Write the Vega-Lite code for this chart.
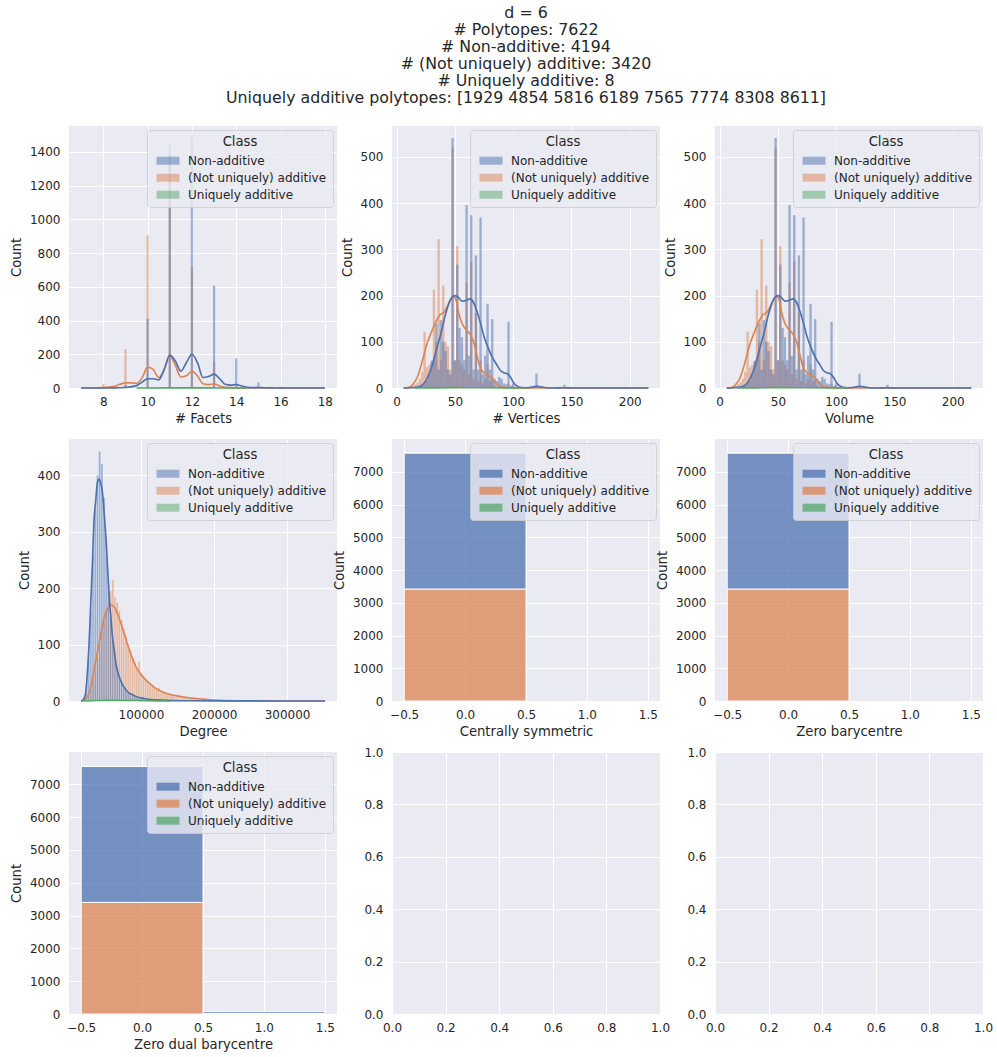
{
"$schema": "https://vega.github.io/schema/vega-lite/v6.json",
"background": "white",
"padding": {"left": 9, "right": 5, "top": 4, "bottom": 5},
"title": {"text": ["d = 6", "# Polytopes: 7622", "# Non-additive: 4194", "# (Not uniquely) additive: 3420", "# Uniquely additive: 8", "Uniquely additive polytopes: [1929 4854 5816 6189 7565 7774 8308 8611]"], "anchor": "middle", "dx": 25, "fontSize": 15.8, "lineHeight": 17.1, "font": "DejaVu Sans", "fontWeight": "normal", "color": "#262626", "offset": 19},
"datasets": {
"h": [
{"p":"F","c":"A","x0":6.95,"x1":7.05,"n":1},
{"p":"F","c":"A","x0":7.95,"x1":8.05,"n":25},
{"p":"F","c":"A","x0":8.95,"x1":9.05,"n":230},
{"p":"F","c":"A","x0":9.95,"x1":10.05,"n":905},
{"p":"F","c":"A","x0":10.95,"x1":11.05,"n":1380},
{"p":"F","c":"A","x0":11.95,"x1":12.05,"n":718},
{"p":"F","c":"A","x0":12.95,"x1":13.05,"n":155},
{"p":"F","c":"A","x0":13.95,"x1":14.05,"n":6},
{"p":"F","c":"N","x0":8.95,"x1":9.05,"n":18},
{"p":"F","c":"N","x0":9.95,"x1":10.05,"n":410},
{"p":"F","c":"N","x0":10.95,"x1":11.05,"n":1440},
{"p":"F","c":"N","x0":11.95,"x1":12.05,"n":1488},
{"p":"F","c":"N","x0":12.95,"x1":13.05,"n":607},
{"p":"F","c":"N","x0":13.95,"x1":14.05,"n":175},
{"p":"F","c":"N","x0":14.95,"x1":15.05,"n":33},
{"p":"F","c":"N","x0":15.95,"x1":16.05,"n":8},
{"p":"F","c":"N","x0":16.95,"x1":17.05,"n":2},
{"p":"F","c":"N","x0":17.95,"x1":18.05,"n":1},
{"p":"F","c":"U","x0":9.95,"x1":10.05,"n":1},
{"p":"F","c":"U","x0":10.95,"x1":11.05,"n":2},
{"p":"F","c":"U","x0":11.95,"x1":12.05,"n":3},
{"p":"F","c":"U","x0":12.95,"x1":13.05,"n":1},
{"p":"F","c":"U","x0":13.95,"x1":14.05,"n":1},
{"p":"V","c":"A","x0":11,"x1":13,"n":3},
{"p":"V","c":"A","x0":13,"x1":15,"n":5},
{"p":"V","c":"A","x0":15,"x1":17,"n":8},
{"p":"V","c":"A","x0":17,"x1":19,"n":12},
{"p":"V","c":"A","x0":19,"x1":21,"n":20},
{"p":"V","c":"A","x0":21,"x1":23,"n":35},
{"p":"V","c":"A","x0":23,"x1":25,"n":122},
{"p":"V","c":"A","x0":25,"x1":27,"n":45},
{"p":"V","c":"A","x0":27,"x1":29,"n":50},
{"p":"V","c":"A","x0":29,"x1":31,"n":60},
{"p":"V","c":"A","x0":31,"x1":33,"n":213},
{"p":"V","c":"A","x0":33,"x1":35,"n":100},
{"p":"V","c":"A","x0":35,"x1":37,"n":322},
{"p":"V","c":"A","x0":37,"x1":39,"n":60},
{"p":"V","c":"A","x0":39,"x1":41,"n":222},
{"p":"V","c":"A","x0":41,"x1":43,"n":100},
{"p":"V","c":"A","x0":43,"x1":45,"n":90},
{"p":"V","c":"A","x0":45,"x1":47,"n":40},
{"p":"V","c":"A","x0":47,"x1":49,"n":520},
{"p":"V","c":"A","x0":49,"x1":51,"n":60},
{"p":"V","c":"A","x0":51,"x1":53,"n":307},
{"p":"V","c":"A","x0":53,"x1":55,"n":60},
{"p":"V","c":"A","x0":55,"x1":57,"n":50},
{"p":"V","c":"A","x0":57,"x1":59,"n":40},
{"p":"V","c":"A","x0":59,"x1":61,"n":229},
{"p":"V","c":"A","x0":61,"x1":63,"n":30},
{"p":"V","c":"A","x0":63,"x1":65,"n":273},
{"p":"V","c":"A","x0":65,"x1":67,"n":20},
{"p":"V","c":"A","x0":67,"x1":69,"n":162},
{"p":"V","c":"A","x0":69,"x1":71,"n":15},
{"p":"V","c":"A","x0":71,"x1":73,"n":60},
{"p":"V","c":"A","x0":73,"x1":75,"n":10},
{"p":"V","c":"A","x0":75,"x1":77,"n":20},
{"p":"V","c":"A","x0":77,"x1":79,"n":51},
{"p":"V","c":"A","x0":79,"x1":81,"n":15},
{"p":"V","c":"A","x0":81,"x1":83,"n":20},
{"p":"V","c":"A","x0":83,"x1":85,"n":5},
{"p":"V","c":"A","x0":87,"x1":89,"n":5},
{"p":"V","c":"A","x0":95,"x1":97,"n":10},
{"p":"V","c":"A","x0":99,"x1":101,"n":5},
{"p":"V","c":"N","x0":19,"x1":21,"n":3},
{"p":"V","c":"N","x0":21,"x1":23,"n":5},
{"p":"V","c":"N","x0":23,"x1":25,"n":10},
{"p":"V","c":"N","x0":25,"x1":27,"n":15},
{"p":"V","c":"N","x0":27,"x1":29,"n":30},
{"p":"V","c":"N","x0":29,"x1":31,"n":57},
{"p":"V","c":"N","x0":31,"x1":33,"n":64},
{"p":"V","c":"N","x0":33,"x1":35,"n":140},
{"p":"V","c":"N","x0":35,"x1":37,"n":40},
{"p":"V","c":"N","x0":37,"x1":39,"n":147},
{"p":"V","c":"N","x0":39,"x1":41,"n":100},
{"p":"V","c":"N","x0":41,"x1":43,"n":80},
{"p":"V","c":"N","x0":43,"x1":45,"n":40},
{"p":"V","c":"N","x0":45,"x1":47,"n":30},
{"p":"V","c":"N","x0":47,"x1":49,"n":541},
{"p":"V","c":"N","x0":49,"x1":51,"n":60},
{"p":"V","c":"N","x0":51,"x1":53,"n":267},
{"p":"V","c":"N","x0":53,"x1":55,"n":130},
{"p":"V","c":"N","x0":55,"x1":57,"n":110},
{"p":"V","c":"N","x0":57,"x1":59,"n":60},
{"p":"V","c":"N","x0":59,"x1":61,"n":396},
{"p":"V","c":"N","x0":61,"x1":63,"n":70},
{"p":"V","c":"N","x0":63,"x1":65,"n":374},
{"p":"V","c":"N","x0":65,"x1":67,"n":40},
{"p":"V","c":"N","x0":67,"x1":69,"n":287},
{"p":"V","c":"N","x0":69,"x1":71,"n":40},
{"p":"V","c":"N","x0":71,"x1":73,"n":369},
{"p":"V","c":"N","x0":73,"x1":75,"n":30},
{"p":"V","c":"N","x0":75,"x1":77,"n":70},
{"p":"V","c":"N","x0":77,"x1":79,"n":182},
{"p":"V","c":"N","x0":79,"x1":81,"n":40},
{"p":"V","c":"N","x0":81,"x1":83,"n":149},
{"p":"V","c":"N","x0":83,"x1":85,"n":20},
{"p":"V","c":"N","x0":85,"x1":87,"n":15},
{"p":"V","c":"N","x0":87,"x1":89,"n":24},
{"p":"V","c":"N","x0":89,"x1":91,"n":20},
{"p":"V","c":"N","x0":91,"x1":93,"n":10},
{"p":"V","c":"N","x0":93,"x1":95,"n":8},
{"p":"V","c":"N","x0":95,"x1":97,"n":143},
{"p":"V","c":"N","x0":97,"x1":99,"n":5},
{"p":"V","c":"N","x0":99,"x1":101,"n":10},
{"p":"V","c":"N","x0":103,"x1":105,"n":4},
{"p":"V","c":"N","x0":107,"x1":109,"n":3},
{"p":"V","c":"N","x0":111,"x1":113,"n":2},
{"p":"V","c":"N","x0":119,"x1":121,"n":31},
{"p":"V","c":"N","x0":131,"x1":133,"n":2},
{"p":"V","c":"N","x0":143,"x1":145,"n":7},
{"p":"V","c":"N","x0":214,"x1":216,"n":1},
{"p":"V","c":"U","x0":29,"x1":31,"n":1},
{"p":"V","c":"U","x0":39,"x1":41,"n":1},
{"p":"V","c":"U","x0":47,"x1":49,"n":2},
{"p":"V","c":"U","x0":59,"x1":61,"n":1},
{"p":"V","c":"U","x0":63,"x1":65,"n":1},
{"p":"V","c":"U","x0":71,"x1":73,"n":1},
{"p":"V","c":"U","x0":95,"x1":97,"n":1},
{"p":"D","c":"A","x0":21000,"x1":24000,"n":1},
{"p":"D","c":"A","x0":24000,"x1":27000,"n":4},
{"p":"D","c":"A","x0":27000,"x1":30000,"n":10},
{"p":"D","c":"A","x0":30000,"x1":33000,"n":20},
{"p":"D","c":"A","x0":33000,"x1":36000,"n":35},
{"p":"D","c":"A","x0":36000,"x1":39000,"n":55},
{"p":"D","c":"A","x0":39000,"x1":42000,"n":75},
{"p":"D","c":"A","x0":42000,"x1":45000,"n":100},
{"p":"D","c":"A","x0":45000,"x1":48000,"n":125},
{"p":"D","c":"A","x0":48000,"x1":51000,"n":140},
{"p":"D","c":"A","x0":51000,"x1":54000,"n":160},
{"p":"D","c":"A","x0":54000,"x1":57000,"n":175},
{"p":"D","c":"A","x0":57000,"x1":60000,"n":195},
{"p":"D","c":"A","x0":60000,"x1":63000,"n":215},
{"p":"D","c":"A","x0":63000,"x1":66000,"n":185},
{"p":"D","c":"A","x0":66000,"x1":69000,"n":175},
{"p":"D","c":"A","x0":69000,"x1":72000,"n":160},
{"p":"D","c":"A","x0":72000,"x1":75000,"n":145},
{"p":"D","c":"A","x0":75000,"x1":78000,"n":128},
{"p":"D","c":"A","x0":78000,"x1":81000,"n":115},
{"p":"D","c":"A","x0":81000,"x1":84000,"n":100},
{"p":"D","c":"A","x0":84000,"x1":87000,"n":90},
{"p":"D","c":"A","x0":87000,"x1":90000,"n":78},
{"p":"D","c":"A","x0":90000,"x1":93000,"n":68},
{"p":"D","c":"A","x0":93000,"x1":96000,"n":60},
{"p":"D","c":"A","x0":96000,"x1":99000,"n":70},
{"p":"D","c":"A","x0":99000,"x1":102000,"n":50},
{"p":"D","c":"A","x0":102000,"x1":105000,"n":45},
{"p":"D","c":"A","x0":105000,"x1":108000,"n":40},
{"p":"D","c":"A","x0":108000,"x1":111000,"n":35},
{"p":"D","c":"A","x0":111000,"x1":114000,"n":32},
{"p":"D","c":"A","x0":114000,"x1":117000,"n":28},
{"p":"D","c":"A","x0":117000,"x1":120000,"n":25},
{"p":"D","c":"A","x0":120000,"x1":123000,"n":22},
{"p":"D","c":"A","x0":123000,"x1":126000,"n":24},
{"p":"D","c":"A","x0":126000,"x1":129000,"n":18},
{"p":"D","c":"A","x0":129000,"x1":132000,"n":16},
{"p":"D","c":"A","x0":132000,"x1":135000,"n":14},
{"p":"D","c":"A","x0":135000,"x1":138000,"n":12},
{"p":"D","c":"A","x0":138000,"x1":141000,"n":11},
{"p":"D","c":"A","x0":141000,"x1":144000,"n":10},
{"p":"D","c":"A","x0":144000,"x1":147000,"n":9},
{"p":"D","c":"A","x0":147000,"x1":150000,"n":8},
{"p":"D","c":"A","x0":150000,"x1":153000,"n":7},
{"p":"D","c":"A","x0":153000,"x1":156000,"n":7},
{"p":"D","c":"A","x0":156000,"x1":159000,"n":6},
{"p":"D","c":"A","x0":159000,"x1":162000,"n":6},
{"p":"D","c":"A","x0":162000,"x1":165000,"n":5},
{"p":"D","c":"A","x0":165000,"x1":168000,"n":5},
{"p":"D","c":"A","x0":168000,"x1":171000,"n":4},
{"p":"D","c":"A","x0":171000,"x1":174000,"n":4},
{"p":"D","c":"A","x0":174000,"x1":177000,"n":5},
{"p":"D","c":"A","x0":177000,"x1":180000,"n":4},
{"p":"D","c":"A","x0":180000,"x1":183000,"n":3},
{"p":"D","c":"A","x0":183000,"x1":186000,"n":3},
{"p":"D","c":"A","x0":186000,"x1":189000,"n":2},
{"p":"D","c":"A","x0":189000,"x1":192000,"n":2},
{"p":"D","c":"A","x0":192000,"x1":195000,"n":2},
{"p":"D","c":"A","x0":195000,"x1":198000,"n":1},
{"p":"D","c":"A","x0":198000,"x1":201000,"n":1},
{"p":"D","c":"N","x0":18000,"x1":21000,"n":2},
{"p":"D","c":"N","x0":21000,"x1":24000,"n":8},
{"p":"D","c":"N","x0":24000,"x1":27000,"n":30},
{"p":"D","c":"N","x0":27000,"x1":30000,"n":75},
{"p":"D","c":"N","x0":30000,"x1":33000,"n":160},
{"p":"D","c":"N","x0":33000,"x1":36000,"n":260},
{"p":"D","c":"N","x0":36000,"x1":39000,"n":340},
{"p":"D","c":"N","x0":39000,"x1":42000,"n":400},
{"p":"D","c":"N","x0":42000,"x1":45000,"n":442},
{"p":"D","c":"N","x0":45000,"x1":48000,"n":420},
{"p":"D","c":"N","x0":48000,"x1":51000,"n":360},
{"p":"D","c":"N","x0":51000,"x1":54000,"n":290},
{"p":"D","c":"N","x0":54000,"x1":57000,"n":210},
{"p":"D","c":"N","x0":57000,"x1":60000,"n":150},
{"p":"D","c":"N","x0":60000,"x1":63000,"n":110},
{"p":"D","c":"N","x0":63000,"x1":66000,"n":80},
{"p":"D","c":"N","x0":66000,"x1":69000,"n":60},
{"p":"D","c":"N","x0":69000,"x1":72000,"n":45},
{"p":"D","c":"N","x0":72000,"x1":75000,"n":35},
{"p":"D","c":"N","x0":75000,"x1":78000,"n":25},
{"p":"D","c":"N","x0":78000,"x1":81000,"n":20},
{"p":"D","c":"N","x0":81000,"x1":84000,"n":15},
{"p":"D","c":"N","x0":84000,"x1":87000,"n":12},
{"p":"D","c":"N","x0":87000,"x1":90000,"n":10},
{"p":"D","c":"N","x0":90000,"x1":93000,"n":8},
{"p":"D","c":"N","x0":93000,"x1":96000,"n":6},
{"p":"D","c":"N","x0":96000,"x1":99000,"n":5},
{"p":"D","c":"N","x0":99000,"x1":102000,"n":4},
{"p":"D","c":"N","x0":102000,"x1":105000,"n":3},
{"p":"D","c":"N","x0":105000,"x1":108000,"n":3},
{"p":"D","c":"N","x0":108000,"x1":111000,"n":2},
{"p":"D","c":"N","x0":111000,"x1":114000,"n":2},
{"p":"D","c":"N","x0":114000,"x1":117000,"n":1},
{"p":"D","c":"N","x0":120000,"x1":123000,"n":1},
{"p":"D","c":"N","x0":350000,"x1":353000,"n":1},
{"p":"D","c":"U","x0":33000,"x1":36000,"n":1},
{"p":"D","c":"U","x0":45000,"x1":48000,"n":2},
{"p":"D","c":"U","x0":57000,"x1":60000,"n":2},
{"p":"D","c":"U","x0":72000,"x1":75000,"n":2},
{"p":"D","c":"U","x0":99000,"x1":102000,"n":1},
{"p":"CS","c":"A","x0":-0.5,"x1":0.5,"n":3420},
{"p":"CS","c":"N","x0":-0.5,"x1":0.5,"n":4155},
{"p":"CS","c":"U","x0":-0.5,"x1":0.5,"n":8},
{"p":"ZB","c":"A","x0":-0.5,"x1":0.5,"n":3420},
{"p":"ZB","c":"N","x0":-0.5,"x1":0.5,"n":4155},
{"p":"ZB","c":"U","x0":-0.5,"x1":0.5,"n":8},
{"p":"ZDB","c":"A","x0":-0.5,"x1":0.5,"n":3400},
{"p":"ZDB","c":"N","x0":-0.5,"x1":0.5,"n":4139},
{"p":"ZDB","c":"U","x0":-0.5,"x1":0.5,"n":8},
{"p":"ZDB","c":"A","x0":0.5,"x1":1.5,"n":20},
{"p":"ZDB","c":"N","x0":0.5,"x1":1.5,"n":55}
],
"k": [
{"p":"F","c":"A","x":7,"y":0},{"p":"F","c":"A","x":7.5,"y":0.2},{"p":"F","c":"A","x":8,"y":2},{"p":"F","c":"A","x":8.5,"y":10},{"p":"F","c":"A","x":8.75,"y":22},{"p":"F","c":"A","x":9,"y":30},{"p":"F","c":"A","x":9.25,"y":30},{"p":"F","c":"A","x":9.5,"y":28},{"p":"F","c":"A","x":9.75,"y":60},{"p":"F","c":"A","x":10,"y":124},{"p":"F","c":"A","x":10.25,"y":110},{"p":"F","c":"A","x":10.5,"y":62},{"p":"F","c":"A","x":10.75,"y":110},{"p":"F","c":"A","x":11,"y":190},{"p":"F","c":"A","x":11.25,"y":135},{"p":"F","c":"A","x":11.5,"y":65},{"p":"F","c":"A","x":11.75,"y":72},{"p":"F","c":"A","x":12,"y":100},{"p":"F","c":"A","x":12.25,"y":72},{"p":"F","c":"A","x":12.5,"y":25},{"p":"F","c":"A","x":12.75,"y":20},{"p":"F","c":"A","x":13,"y":24},{"p":"F","c":"A","x":13.25,"y":12},{"p":"F","c":"A","x":13.5,"y":4},{"p":"F","c":"A","x":14,"y":1},{"p":"F","c":"A","x":14.5,"y":0.2},{"p":"F","c":"A","x":15,"y":0},{"p":"F","c":"A","x":18,"y":0},
{"p":"F","c":"N","x":7,"y":0},{"p":"F","c":"N","x":8,"y":0},{"p":"F","c":"N","x":8.5,"y":0.5},{"p":"F","c":"N","x":9,"y":3},{"p":"F","c":"N","x":9.5,"y":14},{"p":"F","c":"N","x":9.75,"y":35},{"p":"F","c":"N","x":10,"y":55},{"p":"F","c":"N","x":10.25,"y":55},{"p":"F","c":"N","x":10.5,"y":48},{"p":"F","c":"N","x":10.75,"y":110},{"p":"F","c":"N","x":11,"y":195},{"p":"F","c":"N","x":11.25,"y":160},{"p":"F","c":"N","x":11.5,"y":100},{"p":"F","c":"N","x":11.75,"y":150},{"p":"F","c":"N","x":12,"y":200},{"p":"F","c":"N","x":12.25,"y":150},{"p":"F","c":"N","x":12.5,"y":62},{"p":"F","c":"N","x":12.75,"y":68},{"p":"F","c":"N","x":13,"y":82},{"p":"F","c":"N","x":13.25,"y":55},{"p":"F","c":"N","x":13.5,"y":22},{"p":"F","c":"N","x":13.75,"y":17},{"p":"F","c":"N","x":14,"y":20},{"p":"F","c":"N","x":14.25,"y":12},{"p":"F","c":"N","x":14.5,"y":4},{"p":"F","c":"N","x":14.75,"y":2},{"p":"F","c":"N","x":15,"y":3},{"p":"F","c":"N","x":15.25,"y":1.5},{"p":"F","c":"N","x":15.5,"y":0.5},{"p":"F","c":"N","x":16,"y":0.2},{"p":"F","c":"N","x":17,"y":0},{"p":"F","c":"N","x":18,"y":0},
{"p":"F","c":"U","x":9.5,"y":0},{"p":"F","c":"U","x":10,"y":0.2},{"p":"F","c":"U","x":11,"y":0.4},{"p":"F","c":"U","x":12,"y":0.5},{"p":"F","c":"U","x":13,"y":0.3},{"p":"F","c":"U","x":14,"y":0.1},{"p":"F","c":"U","x":14.5,"y":0},
{"p":"V","c":"A","x":6,"y":0},{"p":"V","c":"A","x":10,"y":1},{"p":"V","c":"A","x":14,"y":8},{"p":"V","c":"A","x":18,"y":25},{"p":"V","c":"A","x":22,"y":58},{"p":"V","c":"A","x":26,"y":95},{"p":"V","c":"A","x":30,"y":122},{"p":"V","c":"A","x":34,"y":145},{"p":"V","c":"A","x":37,"y":158},{"p":"V","c":"A","x":41,"y":165},{"p":"V","c":"A","x":44,"y":180},{"p":"V","c":"A","x":47,"y":195},{"p":"V","c":"A","x":49,"y":198},{"p":"V","c":"A","x":51,"y":190},{"p":"V","c":"A","x":53,"y":165},{"p":"V","c":"A","x":56,"y":140},{"p":"V","c":"A","x":59,"y":128},{"p":"V","c":"A","x":61,"y":123},{"p":"V","c":"A","x":64,"y":112},{"p":"V","c":"A","x":66,"y":100},{"p":"V","c":"A","x":69,"y":70},{"p":"V","c":"A","x":71,"y":49},{"p":"V","c":"A","x":74,"y":35},{"p":"V","c":"A","x":76,"y":31},{"p":"V","c":"A","x":79,"y":27},{"p":"V","c":"A","x":81,"y":24},{"p":"V","c":"A","x":84,"y":14},{"p":"V","c":"A","x":87,"y":6},{"p":"V","c":"A","x":90,"y":2},{"p":"V","c":"A","x":95,"y":0.5},{"p":"V","c":"A","x":100,"y":0},{"p":"V","c":"A","x":216,"y":0},
{"p":"V","c":"N","x":6,"y":0},{"p":"V","c":"N","x":12,"y":0.5},{"p":"V","c":"N","x":18,"y":2},{"p":"V","c":"N","x":22,"y":6},{"p":"V","c":"N","x":26,"y":20},{"p":"V","c":"N","x":30,"y":45},{"p":"V","c":"N","x":34,"y":82},{"p":"V","c":"N","x":38,"y":118},{"p":"V","c":"N","x":42,"y":160},{"p":"V","c":"N","x":46,"y":190},{"p":"V","c":"N","x":50,"y":200},{"p":"V","c":"N","x":53,"y":196},{"p":"V","c":"N","x":56,"y":188},{"p":"V","c":"N","x":60,"y":190},{"p":"V","c":"N","x":63,"y":193},{"p":"V","c":"N","x":66,"y":185},{"p":"V","c":"N","x":69,"y":165},{"p":"V","c":"N","x":72,"y":140},{"p":"V","c":"N","x":75,"y":111},{"p":"V","c":"N","x":78,"y":90},{"p":"V","c":"N","x":82,"y":67},{"p":"V","c":"N","x":86,"y":50},{"p":"V","c":"N","x":89,"y":38},{"p":"V","c":"N","x":92,"y":33},{"p":"V","c":"N","x":95,"y":31},{"p":"V","c":"N","x":98,"y":22},{"p":"V","c":"N","x":101,"y":9},{"p":"V","c":"N","x":105,"y":2},{"p":"V","c":"N","x":109,"y":0.5},{"p":"V","c":"N","x":114,"y":1},{"p":"V","c":"N","x":118,"y":3},{"p":"V","c":"N","x":120,"y":3.5},{"p":"V","c":"N","x":124,"y":2.5},{"p":"V","c":"N","x":128,"y":0.5},{"p":"V","c":"N","x":135,"y":0.1},{"p":"V","c":"N","x":144,"y":0.5},{"p":"V","c":"N","x":150,"y":0.1},{"p":"V","c":"N","x":160,"y":0},{"p":"V","c":"N","x":216,"y":0},
{"p":"V","c":"U","x":15,"y":0},{"p":"V","c":"U","x":30,"y":0.4},{"p":"V","c":"U","x":50,"y":0.7},{"p":"V","c":"U","x":70,"y":0.5},{"p":"V","c":"U","x":100,"y":0.2},{"p":"V","c":"U","x":110,"y":0},
{"p":"D","c":"A","x":18000,"y":0},{"p":"D","c":"A","x":22100,"y":1},{"p":"D","c":"A","x":25000,"y":4},{"p":"D","c":"A","x":29000,"y":14},{"p":"D","c":"A","x":32500,"y":32},{"p":"D","c":"A","x":35800,"y":55},{"p":"D","c":"A","x":39200,"y":78},{"p":"D","c":"A","x":42700,"y":102},{"p":"D","c":"A","x":46000,"y":125},{"p":"D","c":"A","x":49600,"y":147},{"p":"D","c":"A","x":53000,"y":160},{"p":"D","c":"A","x":56500,"y":168},{"p":"D","c":"A","x":60100,"y":170},{"p":"D","c":"A","x":63000,"y":167},{"p":"D","c":"A","x":65600,"y":162},{"p":"D","c":"A","x":70000,"y":147},{"p":"D","c":"A","x":74800,"y":129},{"p":"D","c":"A","x":79400,"y":110},{"p":"D","c":"A","x":83900,"y":91},{"p":"D","c":"A","x":88500,"y":75},{"p":"D","c":"A","x":93100,"y":61},{"p":"D","c":"A","x":100000,"y":47},{"p":"D","c":"A","x":106800,"y":37},{"p":"D","c":"A","x":113700,"y":29},{"p":"D","c":"A","x":120600,"y":22},{"p":"D","c":"A","x":130000,"y":16},{"p":"D","c":"A","x":138900,"y":12},{"p":"D","c":"A","x":150000,"y":9},{"p":"D","c":"A","x":161800,"y":6.5},{"p":"D","c":"A","x":170000,"y":5},{"p":"D","c":"A","x":180100,"y":4},{"p":"D","c":"A","x":190000,"y":2.5},{"p":"D","c":"A","x":200000,"y":1.5},{"p":"D","c":"A","x":215000,"y":0.6},{"p":"D","c":"A","x":240000,"y":0.2},{"p":"D","c":"A","x":270000,"y":0.05},{"p":"D","c":"A","x":352000,"y":0},
{"p":"D","c":"N","x":18000,"y":0},{"p":"D","c":"N","x":21000,"y":2},{"p":"D","c":"N","x":24000,"y":12},{"p":"D","c":"N","x":26700,"y":50},{"p":"D","c":"N","x":29000,"y":102},{"p":"D","c":"N","x":31300,"y":173},{"p":"D","c":"N","x":33600,"y":245},{"p":"D","c":"N","x":35800,"y":321},{"p":"D","c":"N","x":38100,"y":355},{"p":"D","c":"N","x":40400,"y":387},{"p":"D","c":"N","x":42700,"y":393},{"p":"D","c":"N","x":45000,"y":385},{"p":"D","c":"N","x":47300,"y":369},{"p":"D","c":"N","x":49600,"y":333},{"p":"D","c":"N","x":51900,"y":292},{"p":"D","c":"N","x":54200,"y":239},{"p":"D","c":"N","x":56500,"y":185},{"p":"D","c":"N","x":58700,"y":150},{"p":"D","c":"N","x":61000,"y":114},{"p":"D","c":"N","x":63300,"y":91},{"p":"D","c":"N","x":65600,"y":67},{"p":"D","c":"N","x":70200,"y":43},{"p":"D","c":"N","x":75000,"y":28},{"p":"D","c":"N","x":79400,"y":20},{"p":"D","c":"N","x":84000,"y":14},{"p":"D","c":"N","x":88500,"y":11},{"p":"D","c":"N","x":95000,"y":7},{"p":"D","c":"N","x":102300,"y":5},{"p":"D","c":"N","x":110000,"y":3},{"p":"D","c":"N","x":120600,"y":2},{"p":"D","c":"N","x":135000,"y":1},{"p":"D","c":"N","x":150000,"y":0.5},{"p":"D","c":"N","x":200000,"y":0.2},{"p":"D","c":"N","x":250000,"y":0.1},{"p":"D","c":"N","x":352000,"y":0},
{"p":"D","c":"U","x":22000,"y":0},{"p":"D","c":"U","x":40000,"y":0.8},{"p":"D","c":"U","x":60000,"y":1},{"p":"D","c":"U","x":90000,"y":0.8},{"p":"D","c":"U","x":120000,"y":0.3},{"p":"D","c":"U","x":140000,"y":0}
]
},
"columns": 3,
"spacing": {"row": 51, "column": 55},
"bounds": "flush",
"resolve": {"legend": {"color": "independent"}},
"concat": [
{"width": 268, "height": 262, "layer": [
 {"data": {"name": "h"}, "transform": [{"filter": "datum.p == 'F'"}], "mark": {"type": "bar", "opacity": 0.5},
  "encoding": {
   "x": {"field": "x0", "type": "quantitative", "scale": {"domain": [6.45, 18.55], "nice": false, "zero": false}, "axis": {"title": "# Facets", "values": [8, 10, 12, 14, 16, 18], "format": "d"}},
   "x2": {"field": "x1"},
   "y": {"field": "n", "type": "quantitative", "scale": {"domain": [0, 1553], "nice": false}, "axis": {"title": "Count", "values": [0, 200, 400, 600, 800, 1000, 1200, 1400], "format": "d"}},
   "y2": {"datum": 0},
   "color": {"field": "c", "type": "nominal", "scale": {"domain": ["N", "A", "U"], "range": ["#4c72b0", "#dd8452", "#55a868"]}, "legend": {"title": "Class", "symbolOpacity": 0.5, "labelExpr": "datum.label == 'N' ? 'Non-additive' : datum.label == 'A' ? '(Not uniquely) additive' : 'Uniquely additive'"}}
  }},
 {"data": {"name": "k"}, "transform": [{"filter": "datum.p == 'F'"}], "mark": {"type": "line", "strokeWidth": 1.65, "interpolate": "monotone"},
  "encoding": {"x": {"field": "x", "type": "quantitative", "axis": {"title": "# Facets", "values": [8, 10, 12, 14, 16, 18], "format": "d"}}, "y": {"field": "y", "type": "quantitative", "axis": {"title": "Count", "values": [0, 200, 400, 600, 800, 1000, 1200, 1400], "format": "d"}}, "color": {"field": "c", "type": "nominal", "legend": null}}}
]},
{"width": 268, "height": 262, "layer": [
 {"data": {"name": "h"}, "transform": [{"filter": "datum.p == 'V'"}], "mark": {"type": "bar", "opacity": 0.5},
  "encoding": {
   "x": {"field": "x0", "type": "quantitative", "scale": {"domain": [-4, 226], "nice": false, "zero": false}, "axis": {"title": "# Vertices", "values": [0, 50, 100, 150, 200], "format": "d"}},
   "x2": {"field": "x1"},
   "y": {"field": "n", "type": "quantitative", "scale": {"domain": [0, 567], "nice": false}, "axis": {"title": "Count", "values": [0, 100, 200, 300, 400, 500], "format": "d"}},
   "y2": {"datum": 0},
   "color": {"field": "c", "type": "nominal", "scale": {"domain": ["N", "A", "U"], "range": ["#4c72b0", "#dd8452", "#55a868"]}, "legend": {"title": "Class", "symbolOpacity": 0.5, "labelExpr": "datum.label == 'N' ? 'Non-additive' : datum.label == 'A' ? '(Not uniquely) additive' : 'Uniquely additive'"}}
  }},
 {"data": {"name": "k"}, "transform": [{"filter": "datum.p == 'V'"}], "mark": {"type": "line", "strokeWidth": 1.65, "interpolate": "monotone"},
  "encoding": {"x": {"field": "x", "type": "quantitative", "axis": {"title": "# Vertices", "values": [0, 50, 100, 150, 200], "format": "d"}}, "y": {"field": "y", "type": "quantitative", "axis": {"title": "Count", "values": [0, 100, 200, 300, 400, 500], "format": "d"}}, "color": {"field": "c", "type": "nominal", "legend": null}}}
]},
{"width": 268, "height": 262, "layer": [
 {"data": {"name": "h"}, "transform": [{"filter": "datum.p == 'V'"}], "mark": {"type": "bar", "opacity": 0.5},
  "encoding": {
   "x": {"field": "x0", "type": "quantitative", "scale": {"domain": [-4, 226], "nice": false, "zero": false}, "axis": {"title": "Volume", "values": [0, 50, 100, 150, 200], "format": "d"}},
   "x2": {"field": "x1"},
   "y": {"field": "n", "type": "quantitative", "scale": {"domain": [0, 567], "nice": false}, "axis": {"title": "Count", "values": [0, 100, 200, 300, 400, 500], "format": "d"}},
   "y2": {"datum": 0},
   "color": {"field": "c", "type": "nominal", "scale": {"domain": ["N", "A", "U"], "range": ["#4c72b0", "#dd8452", "#55a868"]}, "legend": {"title": "Class", "symbolOpacity": 0.5, "labelExpr": "datum.label == 'N' ? 'Non-additive' : datum.label == 'A' ? '(Not uniquely) additive' : 'Uniquely additive'"}}
  }},
 {"data": {"name": "k"}, "transform": [{"filter": "datum.p == 'V'"}], "mark": {"type": "line", "strokeWidth": 1.65, "interpolate": "monotone"},
  "encoding": {"x": {"field": "x", "type": "quantitative", "axis": {"title": "Volume", "values": [0, 50, 100, 150, 200], "format": "d"}}, "y": {"field": "y", "type": "quantitative", "axis": {"title": "Count", "values": [0, 100, 200, 300, 400, 500], "format": "d"}}, "color": {"field": "c", "type": "nominal", "legend": null}}}
]},
{"width": 268, "height": 262, "layer": [
 {"data": {"name": "h"}, "transform": [{"filter": "datum.p == 'D'"}], "mark": {"type": "bar", "opacity": 0.5, "stroke": "white", "strokeWidth": 0.4},
  "encoding": {
   "x": {"field": "x0", "type": "quantitative", "scale": {"domain": [1500, 368300], "nice": false, "zero": false}, "axis": {"title": "Degree", "values": [100000, 200000, 300000], "format": "d"}},
   "x2": {"field": "x1"},
   "y": {"field": "n", "type": "quantitative", "scale": {"domain": [0, 464], "nice": false}, "axis": {"title": "Count", "values": [0, 100, 200, 300, 400], "format": "d"}},
   "y2": {"datum": 0},
   "color": {"field": "c", "type": "nominal", "scale": {"domain": ["N", "A", "U"], "range": ["#4c72b0", "#dd8452", "#55a868"]}, "legend": {"title": "Class", "symbolOpacity": 0.5, "labelExpr": "datum.label == 'N' ? 'Non-additive' : datum.label == 'A' ? '(Not uniquely) additive' : 'Uniquely additive'"}}
  }},
 {"data": {"name": "k"}, "transform": [{"filter": "datum.p == 'D'"}], "mark": {"type": "line", "strokeWidth": 1.65, "interpolate": "monotone"},
  "encoding": {"x": {"field": "x", "type": "quantitative", "axis": {"title": "Degree", "values": [100000, 200000, 300000], "format": "d"}}, "y": {"field": "y", "type": "quantitative", "axis": {"title": "Count", "values": [0, 100, 200, 300, 400], "format": "d"}}, "color": {"field": "c", "type": "nominal", "legend": null}}}
]},
{"width": 268, "height": 262, "data": {"name": "h"}, "transform": [{"filter": "datum.p == 'CS'"}, {"stack": "n", "groupby": ["x0"], "sort": [{"field": "c", "order": "ascending"}], "as": ["s0", "s1"]}], "mark": {"type": "bar", "opacity": 0.75, "stroke": "white", "strokeWidth": 1},
 "encoding": {
  "x": {"field": "x0", "type": "quantitative", "scale": {"domain": [-0.6, 1.6], "nice": false, "zero": false}, "axis": {"title": "Centrally symmetric", "values": [-0.5, 0, 0.5, 1, 1.5], "format": ".1f"}},
  "x2": {"field": "x1"},
  "y": {"field": "s0", "type": "quantitative", "scale": {"domain": [0, 8003], "nice": false}, "axis": {"title": "Count", "values": [0, 1000, 2000, 3000, 4000, 5000, 6000, 7000], "format": "d"}},
  "y2": {"field": "s1"},
  "color": {"field": "c", "type": "nominal", "scale": {"domain": ["N", "A", "U"], "range": ["#4c72b0", "#dd8452", "#55a868"]}, "legend": {"title": "Class", "symbolOpacity": 0.75, "labelExpr": "datum.label == 'N' ? 'Non-additive' : datum.label == 'A' ? '(Not uniquely) additive' : 'Uniquely additive'"}}
 }},
{"width": 268, "height": 262, "data": {"name": "h"}, "transform": [{"filter": "datum.p == 'ZB'"}, {"stack": "n", "groupby": ["x0"], "sort": [{"field": "c", "order": "ascending"}], "as": ["s0", "s1"]}], "mark": {"type": "bar", "opacity": 0.75, "stroke": "white", "strokeWidth": 1},
 "encoding": {
  "x": {"field": "x0", "type": "quantitative", "scale": {"domain": [-0.6, 1.6], "nice": false, "zero": false}, "axis": {"title": "Zero barycentre", "values": [-0.5, 0, 0.5, 1, 1.5], "format": ".1f"}},
  "x2": {"field": "x1"},
  "y": {"field": "s0", "type": "quantitative", "scale": {"domain": [0, 8003], "nice": false}, "axis": {"title": "Count", "values": [0, 1000, 2000, 3000, 4000, 5000, 6000, 7000], "format": "d"}},
  "y2": {"field": "s1"},
  "color": {"field": "c", "type": "nominal", "scale": {"domain": ["N", "A", "U"], "range": ["#4c72b0", "#dd8452", "#55a868"]}, "legend": {"title": "Class", "symbolOpacity": 0.75, "labelExpr": "datum.label == 'N' ? 'Non-additive' : datum.label == 'A' ? '(Not uniquely) additive' : 'Uniquely additive'"}}
 }},
{"width": 268, "height": 262, "data": {"name": "h"}, "transform": [{"filter": "datum.p == 'ZDB'"}, {"stack": "n", "groupby": ["x0"], "sort": [{"field": "c", "order": "ascending"}], "as": ["s0", "s1"]}], "mark": {"type": "bar", "opacity": 0.75, "stroke": "white", "strokeWidth": 1},
 "encoding": {
  "x": {"field": "x0", "type": "quantitative", "scale": {"domain": [-0.6, 1.6], "nice": false, "zero": false}, "axis": {"title": "Zero dual barycentre", "values": [-0.5, 0, 0.5, 1, 1.5], "format": ".1f"}},
  "x2": {"field": "x1"},
  "y": {"field": "s0", "type": "quantitative", "scale": {"domain": [0, 7982], "nice": false}, "axis": {"title": "Count", "values": [0, 1000, 2000, 3000, 4000, 5000, 6000, 7000], "format": "d"}},
  "y2": {"field": "s1"},
  "color": {"field": "c", "type": "nominal", "scale": {"domain": ["N", "A", "U"], "range": ["#4c72b0", "#dd8452", "#55a868"]}, "legend": {"title": "Class", "symbolOpacity": 0.75, "labelExpr": "datum.label == 'N' ? 'Non-additive' : datum.label == 'A' ? '(Not uniquely) additive' : 'Uniquely additive'"}}
 }},
{"width": 268, "height": 262, "data": {"values": [{"x": 0, "y": 0}]}, "mark": {"type": "point", "opacity": 0},
 "encoding": {
  "x": {"field": "x", "type": "quantitative", "scale": {"domain": [0, 1], "nice": false}, "axis": {"title": null, "values": [0, 0.2, 0.4, 0.6, 0.8, 1], "format": ".1f"}},
  "y": {"field": "y", "type": "quantitative", "scale": {"domain": [0, 1], "nice": false}, "axis": {"title": null, "values": [0, 0.2, 0.4, 0.6, 0.8, 1], "format": ".1f"}}
 }},
{"width": 268, "height": 262, "data": {"values": [{"x": 0, "y": 0}]}, "mark": {"type": "point", "opacity": 0},
 "encoding": {
  "x": {"field": "x", "type": "quantitative", "scale": {"domain": [0, 1], "nice": false}, "axis": {"title": null, "values": [0, 0.2, 0.4, 0.6, 0.8, 1], "format": ".1f"}},
  "y": {"field": "y", "type": "quantitative", "scale": {"domain": [0, 1], "nice": false}, "axis": {"title": null, "values": [0, 0.2, 0.4, 0.6, 0.8, 1], "format": ".1f"}}
 }}
],
"config": {
 "font": "DejaVu Sans",
 "view": {"fill": "#eaeaf2", "stroke": null},
 "axis": {"domain": false, "ticks": false, "grid": true, "gridColor": "white", "gridWidth": 1, "labelColor": "#262626", "labelFontSize": 12, "labelFont": "DejaVu Sans", "titleColor": "#262626", "titleFontSize": 13.2, "titleFontWeight": "normal", "titleFont": "DejaVu Sans", "labelOverlap": false},
 "axisX": {"labelPadding": 8, "titlePadding": 5.5, "labelFlush": false},
 "axisY": {"labelPadding": 9, "titlePadding": 6},
 "legend": {"orient": "top-right", "offset": 4, "titleAnchor": "middle", "titleFontSize": 13.2, "titleFontWeight": "normal", "titleColor": "#262626", "titleFont": "DejaVu Sans", "titlePadding": 5.5, "labelFontSize": 12, "labelColor": "#262626", "labelFont": "DejaVu Sans", "symbolType": "M-1,-1.6H8.2V1.6H-1Z", "symbolSize": 25, "symbolStrokeWidth": 0, "labelOffset": 23, "rowPadding": 5, "fillColor": "rgba(234,234,242,0.8)", "strokeColor": "rgba(204,204,204,0.8)", "cornerRadius": 3, "padding": 6, "labelLimit": 0}
}
}
